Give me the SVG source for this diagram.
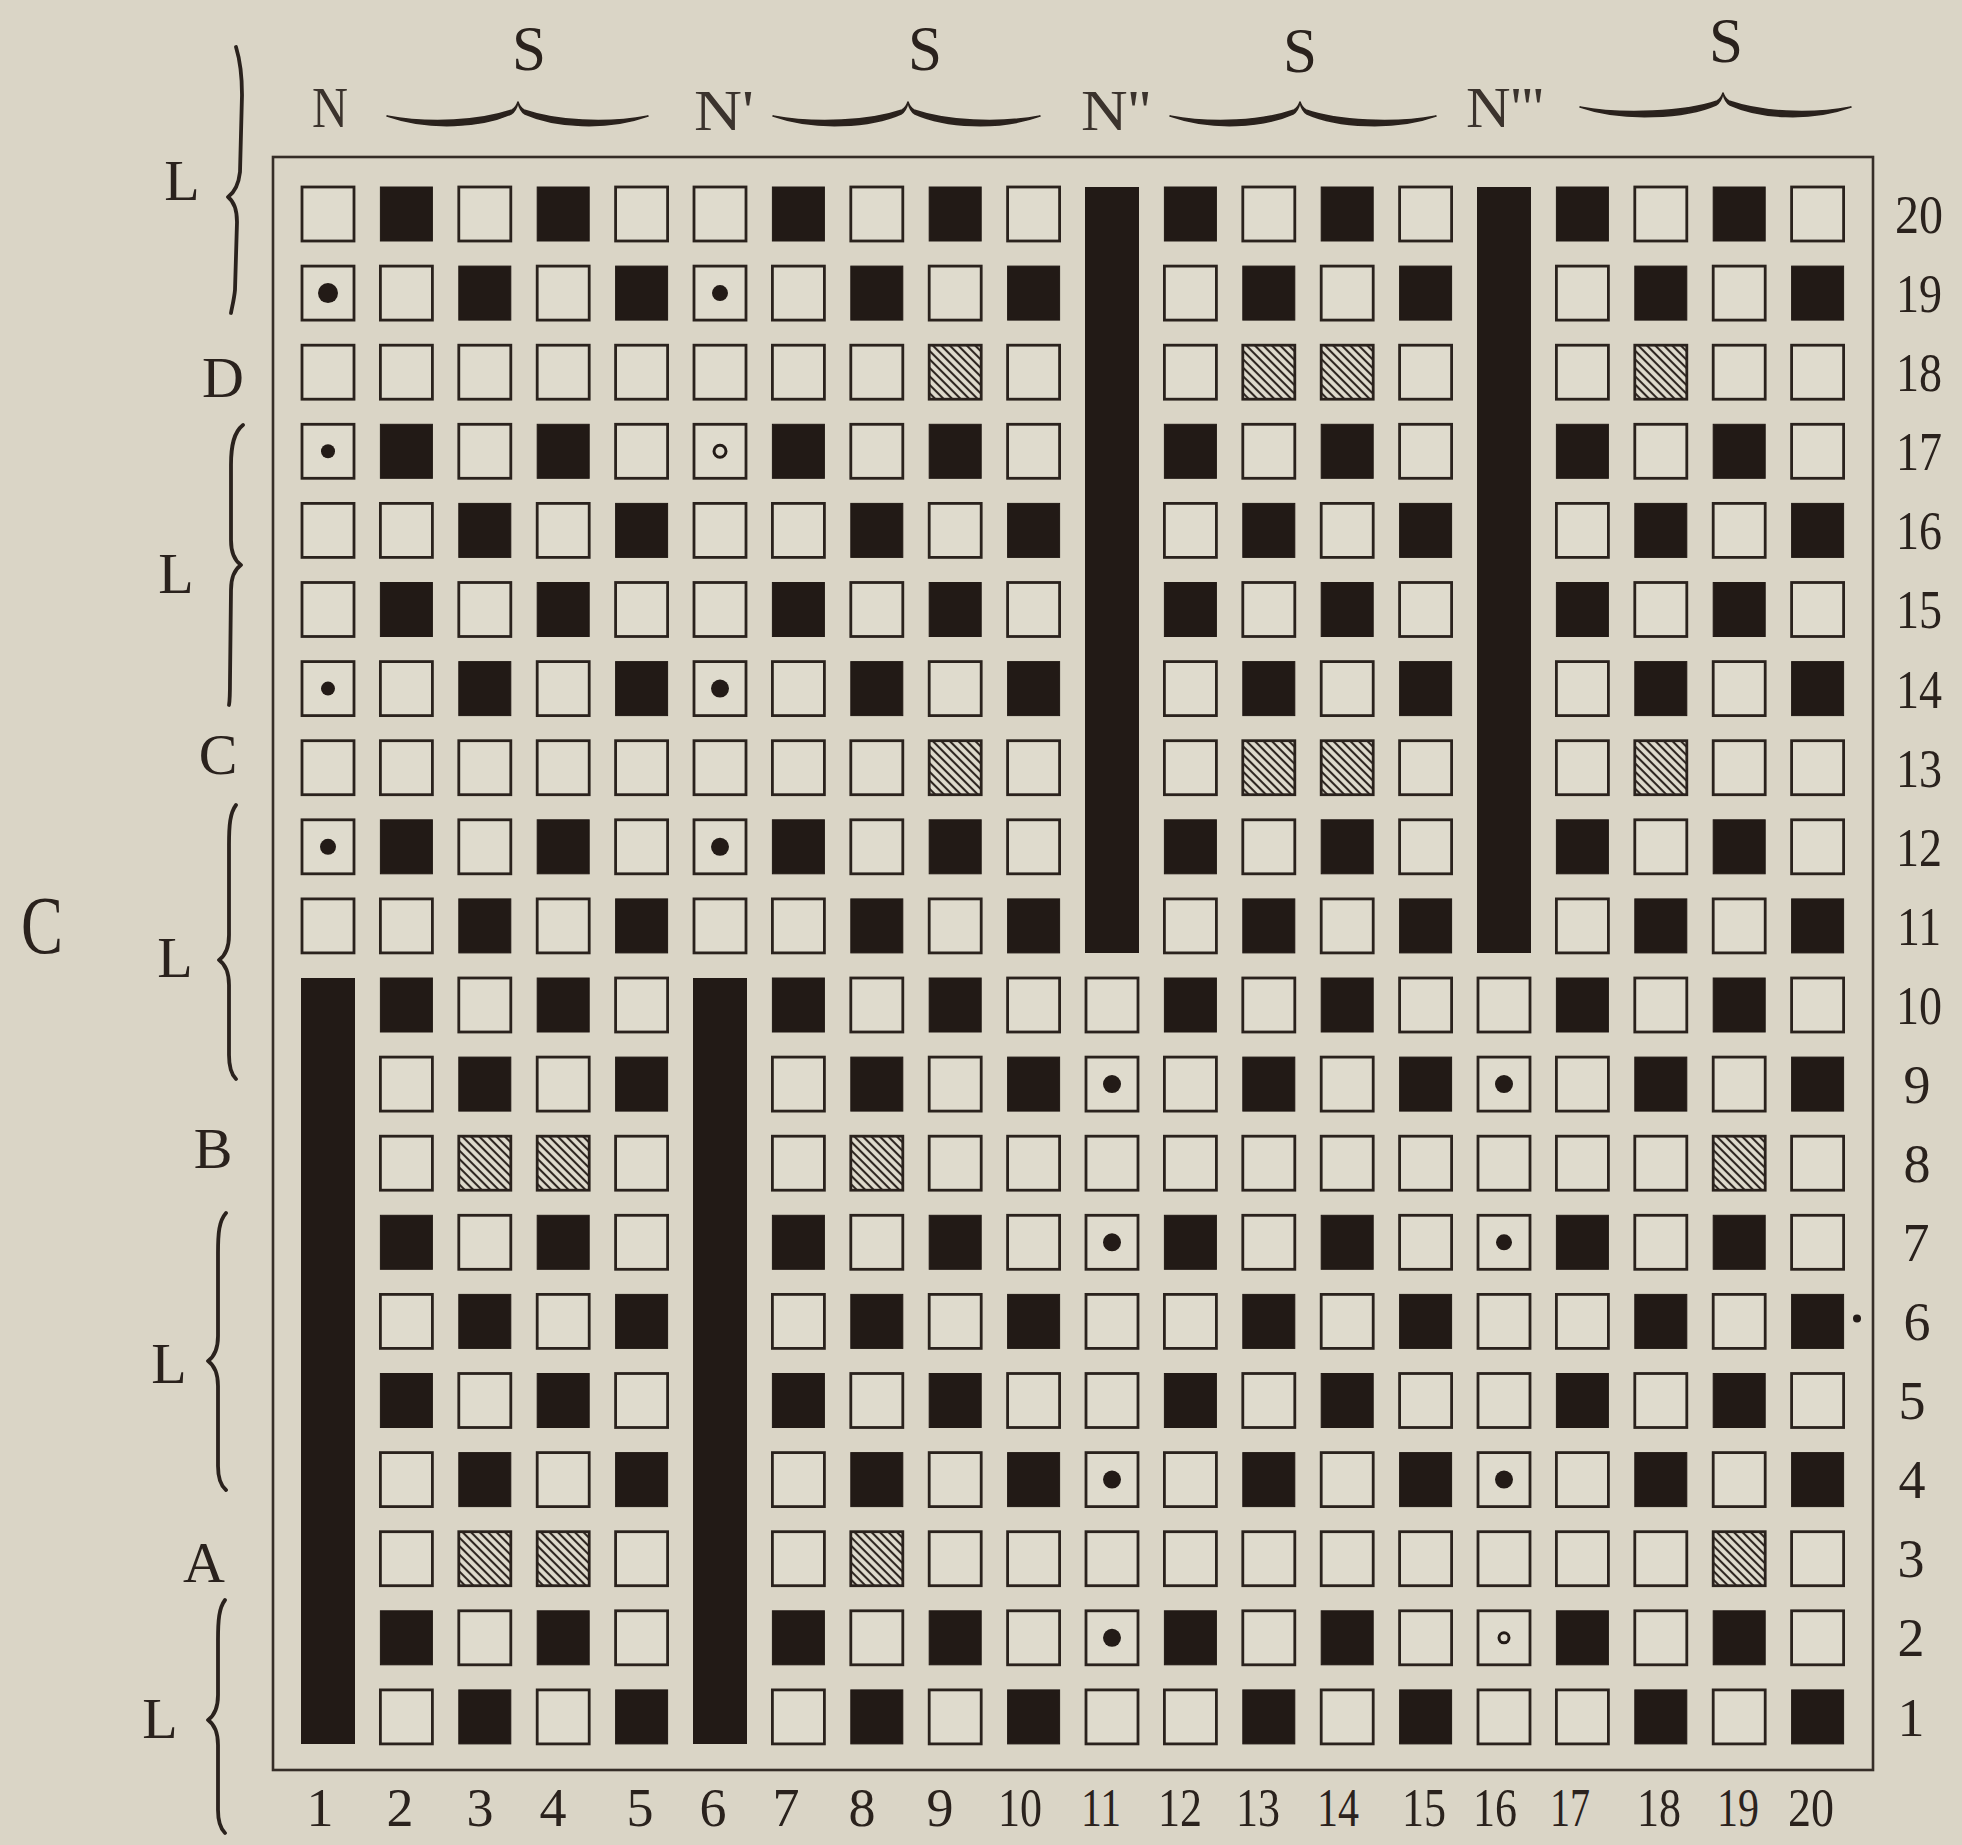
<svg xmlns="http://www.w3.org/2000/svg" xmlns:xlink="http://www.w3.org/1999/xlink" width="1962" height="1845" viewBox="0 0 1962 1845">
<style>
.t{font-family:"Liberation Serif","Times New Roman",serif;fill:#2a221d}
.lbl{font-size:58px;text-anchor:middle}
.num{font-size:54px;text-anchor:middle}
.top{font-size:56px;fill:#3b332d}
.s{font-size:64px;text-anchor:middle}
.br{fill:#2a221d;stroke:#2a221d;stroke-width:1.6;stroke-linejoin:round}
.vb{fill:none;stroke:#2a221d;stroke-width:3.8;stroke-linecap:round;stroke-linejoin:round}
.dot{fill:#231b17}
.ring{fill:none;stroke:#231b17;stroke-width:3}
.bar{fill:#221a16}
</style>
<defs>
<pattern id="hp" width="6" height="6" patternUnits="userSpaceOnUse" patternTransform="rotate(-45)">
<rect width="6" height="6" fill="#dfdbcd"/>
<line x1="3" y1="0" x2="3" y2="6" stroke="#2e2621" stroke-width="2.1"/>
</pattern>
<rect id="w" x="-26" y="-27" width="52" height="54" fill="#dfdbcd" stroke="#2a221d" stroke-width="2.8"/>
<rect id="k" x="-26" y="-27" width="52" height="54" fill="#221a16" stroke="#221a16" stroke-width="1"/>
<rect id="h" x="-26" y="-27" width="52" height="54" fill="url(#hp)" stroke="#2a221d" stroke-width="2.8"/>
</defs>
<rect x="0" y="0" width="1962" height="1845" fill="#dad5c6"/>

<g id="border">
<rect x="273" y="157" width="1600" height="1613" fill="none" stroke="#352d27" stroke-width="2.6"/>
</g>

<g id="bars">
<rect class="bar" x="301" y="978" width="54" height="766"/>
<rect class="bar" x="693" y="978" width="54" height="766"/>
<rect class="bar" x="1085" y="187" width="54" height="766"/>
<rect class="bar" x="1477" y="187" width="54" height="766"/>
</g>

<g id="row-20" transform="translate(0,214)">
<use href="#w" x="328"/><use href="#k" x="406.4"/><use href="#w" x="484.8"/><use href="#k" x="563.2"/><use href="#w" x="641.6"/><use href="#w" x="720"/><use href="#k" x="798.4"/><use href="#w" x="876.8"/><use href="#k" x="955.2"/><use href="#w" x="1033.6"/><use href="#k" x="1190.4"/><use href="#w" x="1268.8"/><use href="#k" x="1347.2"/><use href="#w" x="1425.6"/><use href="#k" x="1582.4"/><use href="#w" x="1660.8"/><use href="#k" x="1739.2"/><use href="#w" x="1817.6"/>
</g>
<g id="row-19" transform="translate(0,293.1)">
<use href="#w" x="328"/><use href="#w" x="406.4"/><use href="#k" x="484.8"/><use href="#w" x="563.2"/><use href="#k" x="641.6"/><use href="#w" x="720"/><use href="#w" x="798.4"/><use href="#k" x="876.8"/><use href="#w" x="955.2"/><use href="#k" x="1033.6"/><use href="#w" x="1190.4"/><use href="#k" x="1268.8"/><use href="#w" x="1347.2"/><use href="#k" x="1425.6"/><use href="#w" x="1582.4"/><use href="#k" x="1660.8"/><use href="#w" x="1739.2"/><use href="#k" x="1817.6"/>
<circle class="dot" cx="328" cy="0" r="10"/><circle class="dot" cx="720" cy="0" r="8"/>
</g>
<g id="row-18" transform="translate(0,372.2)">
<use href="#w" x="328"/><use href="#w" x="406.4"/><use href="#w" x="484.8"/><use href="#w" x="563.2"/><use href="#w" x="641.6"/><use href="#w" x="720"/><use href="#w" x="798.4"/><use href="#w" x="876.8"/><use href="#h" x="955.2"/><use href="#w" x="1033.6"/><use href="#w" x="1190.4"/><use href="#h" x="1268.8"/><use href="#h" x="1347.2"/><use href="#w" x="1425.6"/><use href="#w" x="1582.4"/><use href="#h" x="1660.8"/><use href="#w" x="1739.2"/><use href="#w" x="1817.6"/>
</g>
<g id="row-17" transform="translate(0,451.3)">
<use href="#w" x="328"/><use href="#k" x="406.4"/><use href="#w" x="484.8"/><use href="#k" x="563.2"/><use href="#w" x="641.6"/><use href="#w" x="720"/><use href="#k" x="798.4"/><use href="#w" x="876.8"/><use href="#k" x="955.2"/><use href="#w" x="1033.6"/><use href="#k" x="1190.4"/><use href="#w" x="1268.8"/><use href="#k" x="1347.2"/><use href="#w" x="1425.6"/><use href="#k" x="1582.4"/><use href="#w" x="1660.8"/><use href="#k" x="1739.2"/><use href="#w" x="1817.6"/>
<circle class="dot" cx="328" cy="0" r="7"/><circle class="ring" cx="720" cy="0" r="6"/>
</g>
<g id="row-16" transform="translate(0,530.4)">
<use href="#w" x="328"/><use href="#w" x="406.4"/><use href="#k" x="484.8"/><use href="#w" x="563.2"/><use href="#k" x="641.6"/><use href="#w" x="720"/><use href="#w" x="798.4"/><use href="#k" x="876.8"/><use href="#w" x="955.2"/><use href="#k" x="1033.6"/><use href="#w" x="1190.4"/><use href="#k" x="1268.8"/><use href="#w" x="1347.2"/><use href="#k" x="1425.6"/><use href="#w" x="1582.4"/><use href="#k" x="1660.8"/><use href="#w" x="1739.2"/><use href="#k" x="1817.6"/>
</g>
<g id="row-15" transform="translate(0,609.5)">
<use href="#w" x="328"/><use href="#k" x="406.4"/><use href="#w" x="484.8"/><use href="#k" x="563.2"/><use href="#w" x="641.6"/><use href="#w" x="720"/><use href="#k" x="798.4"/><use href="#w" x="876.8"/><use href="#k" x="955.2"/><use href="#w" x="1033.6"/><use href="#k" x="1190.4"/><use href="#w" x="1268.8"/><use href="#k" x="1347.2"/><use href="#w" x="1425.6"/><use href="#k" x="1582.4"/><use href="#w" x="1660.8"/><use href="#k" x="1739.2"/><use href="#w" x="1817.6"/>
</g>
<g id="row-14" transform="translate(0,688.6)">
<use href="#w" x="328"/><use href="#w" x="406.4"/><use href="#k" x="484.8"/><use href="#w" x="563.2"/><use href="#k" x="641.6"/><use href="#w" x="720"/><use href="#w" x="798.4"/><use href="#k" x="876.8"/><use href="#w" x="955.2"/><use href="#k" x="1033.6"/><use href="#w" x="1190.4"/><use href="#k" x="1268.8"/><use href="#w" x="1347.2"/><use href="#k" x="1425.6"/><use href="#w" x="1582.4"/><use href="#k" x="1660.8"/><use href="#w" x="1739.2"/><use href="#k" x="1817.6"/>
<circle class="dot" cx="328" cy="0" r="7"/><circle class="dot" cx="720" cy="0" r="9"/>
</g>
<g id="row-13" transform="translate(0,767.7)">
<use href="#w" x="328"/><use href="#w" x="406.4"/><use href="#w" x="484.8"/><use href="#w" x="563.2"/><use href="#w" x="641.6"/><use href="#w" x="720"/><use href="#w" x="798.4"/><use href="#w" x="876.8"/><use href="#h" x="955.2"/><use href="#w" x="1033.6"/><use href="#w" x="1190.4"/><use href="#h" x="1268.8"/><use href="#h" x="1347.2"/><use href="#w" x="1425.6"/><use href="#w" x="1582.4"/><use href="#h" x="1660.8"/><use href="#w" x="1739.2"/><use href="#w" x="1817.6"/>
</g>
<g id="row-12" transform="translate(0,846.8)">
<use href="#w" x="328"/><use href="#k" x="406.4"/><use href="#w" x="484.8"/><use href="#k" x="563.2"/><use href="#w" x="641.6"/><use href="#w" x="720"/><use href="#k" x="798.4"/><use href="#w" x="876.8"/><use href="#k" x="955.2"/><use href="#w" x="1033.6"/><use href="#k" x="1190.4"/><use href="#w" x="1268.8"/><use href="#k" x="1347.2"/><use href="#w" x="1425.6"/><use href="#k" x="1582.4"/><use href="#w" x="1660.8"/><use href="#k" x="1739.2"/><use href="#w" x="1817.6"/>
<circle class="dot" cx="328" cy="0" r="8"/><circle class="dot" cx="720" cy="0" r="9"/>
</g>
<g id="row-11" transform="translate(0,925.9)">
<use href="#w" x="328"/><use href="#w" x="406.4"/><use href="#k" x="484.8"/><use href="#w" x="563.2"/><use href="#k" x="641.6"/><use href="#w" x="720"/><use href="#w" x="798.4"/><use href="#k" x="876.8"/><use href="#w" x="955.2"/><use href="#k" x="1033.6"/><use href="#w" x="1190.4"/><use href="#k" x="1268.8"/><use href="#w" x="1347.2"/><use href="#k" x="1425.6"/><use href="#w" x="1582.4"/><use href="#k" x="1660.8"/><use href="#w" x="1739.2"/><use href="#k" x="1817.6"/>
</g>
<g id="row-10" transform="translate(0,1005)">
<use href="#k" x="406.4"/><use href="#w" x="484.8"/><use href="#k" x="563.2"/><use href="#w" x="641.6"/><use href="#k" x="798.4"/><use href="#w" x="876.8"/><use href="#k" x="955.2"/><use href="#w" x="1033.6"/><use href="#w" x="1112"/><use href="#k" x="1190.4"/><use href="#w" x="1268.8"/><use href="#k" x="1347.2"/><use href="#w" x="1425.6"/><use href="#w" x="1504"/><use href="#k" x="1582.4"/><use href="#w" x="1660.8"/><use href="#k" x="1739.2"/><use href="#w" x="1817.6"/>
</g>
<g id="row-9" transform="translate(0,1084.1)">
<use href="#w" x="406.4"/><use href="#k" x="484.8"/><use href="#w" x="563.2"/><use href="#k" x="641.6"/><use href="#w" x="798.4"/><use href="#k" x="876.8"/><use href="#w" x="955.2"/><use href="#k" x="1033.6"/><use href="#w" x="1112"/><use href="#w" x="1190.4"/><use href="#k" x="1268.8"/><use href="#w" x="1347.2"/><use href="#k" x="1425.6"/><use href="#w" x="1504"/><use href="#w" x="1582.4"/><use href="#k" x="1660.8"/><use href="#w" x="1739.2"/><use href="#k" x="1817.6"/>
<circle class="dot" cx="1112" cy="0" r="9"/><circle class="dot" cx="1504" cy="0" r="9"/>
</g>
<g id="row-8" transform="translate(0,1163.2)">
<use href="#w" x="406.4"/><use href="#h" x="484.8"/><use href="#h" x="563.2"/><use href="#w" x="641.6"/><use href="#w" x="798.4"/><use href="#h" x="876.8"/><use href="#w" x="955.2"/><use href="#w" x="1033.6"/><use href="#w" x="1112"/><use href="#w" x="1190.4"/><use href="#w" x="1268.8"/><use href="#w" x="1347.2"/><use href="#w" x="1425.6"/><use href="#w" x="1504"/><use href="#w" x="1582.4"/><use href="#w" x="1660.8"/><use href="#h" x="1739.2"/><use href="#w" x="1817.6"/>
</g>
<g id="row-7" transform="translate(0,1242.3)">
<use href="#k" x="406.4"/><use href="#w" x="484.8"/><use href="#k" x="563.2"/><use href="#w" x="641.6"/><use href="#k" x="798.4"/><use href="#w" x="876.8"/><use href="#k" x="955.2"/><use href="#w" x="1033.6"/><use href="#w" x="1112"/><use href="#k" x="1190.4"/><use href="#w" x="1268.8"/><use href="#k" x="1347.2"/><use href="#w" x="1425.6"/><use href="#w" x="1504"/><use href="#k" x="1582.4"/><use href="#w" x="1660.8"/><use href="#k" x="1739.2"/><use href="#w" x="1817.6"/>
<circle class="dot" cx="1112" cy="0" r="9"/><circle class="dot" cx="1504" cy="0" r="8"/>
</g>
<g id="row-6" transform="translate(0,1321.4)">
<use href="#w" x="406.4"/><use href="#k" x="484.8"/><use href="#w" x="563.2"/><use href="#k" x="641.6"/><use href="#w" x="798.4"/><use href="#k" x="876.8"/><use href="#w" x="955.2"/><use href="#k" x="1033.6"/><use href="#w" x="1112"/><use href="#w" x="1190.4"/><use href="#k" x="1268.8"/><use href="#w" x="1347.2"/><use href="#k" x="1425.6"/><use href="#w" x="1504"/><use href="#w" x="1582.4"/><use href="#k" x="1660.8"/><use href="#w" x="1739.2"/><use href="#k" x="1817.6"/>
<circle class="dot" cx="1857" cy="-3" r="4"/>
</g>
<g id="row-5" transform="translate(0,1400.5)">
<use href="#k" x="406.4"/><use href="#w" x="484.8"/><use href="#k" x="563.2"/><use href="#w" x="641.6"/><use href="#k" x="798.4"/><use href="#w" x="876.8"/><use href="#k" x="955.2"/><use href="#w" x="1033.6"/><use href="#w" x="1112"/><use href="#k" x="1190.4"/><use href="#w" x="1268.8"/><use href="#k" x="1347.2"/><use href="#w" x="1425.6"/><use href="#w" x="1504"/><use href="#k" x="1582.4"/><use href="#w" x="1660.8"/><use href="#k" x="1739.2"/><use href="#w" x="1817.6"/>
</g>
<g id="row-4" transform="translate(0,1479.6)">
<use href="#w" x="406.4"/><use href="#k" x="484.8"/><use href="#w" x="563.2"/><use href="#k" x="641.6"/><use href="#w" x="798.4"/><use href="#k" x="876.8"/><use href="#w" x="955.2"/><use href="#k" x="1033.6"/><use href="#w" x="1112"/><use href="#w" x="1190.4"/><use href="#k" x="1268.8"/><use href="#w" x="1347.2"/><use href="#k" x="1425.6"/><use href="#w" x="1504"/><use href="#w" x="1582.4"/><use href="#k" x="1660.8"/><use href="#w" x="1739.2"/><use href="#k" x="1817.6"/>
<circle class="dot" cx="1112" cy="0" r="9"/><circle class="dot" cx="1504" cy="0" r="9"/>
</g>
<g id="row-3" transform="translate(0,1558.7)">
<use href="#w" x="406.4"/><use href="#h" x="484.8"/><use href="#h" x="563.2"/><use href="#w" x="641.6"/><use href="#w" x="798.4"/><use href="#h" x="876.8"/><use href="#w" x="955.2"/><use href="#w" x="1033.6"/><use href="#w" x="1112"/><use href="#w" x="1190.4"/><use href="#w" x="1268.8"/><use href="#w" x="1347.2"/><use href="#w" x="1425.6"/><use href="#w" x="1504"/><use href="#w" x="1582.4"/><use href="#w" x="1660.8"/><use href="#h" x="1739.2"/><use href="#w" x="1817.6"/>
</g>
<g id="row-2" transform="translate(0,1637.8)">
<use href="#k" x="406.4"/><use href="#w" x="484.8"/><use href="#k" x="563.2"/><use href="#w" x="641.6"/><use href="#k" x="798.4"/><use href="#w" x="876.8"/><use href="#k" x="955.2"/><use href="#w" x="1033.6"/><use href="#w" x="1112"/><use href="#k" x="1190.4"/><use href="#w" x="1268.8"/><use href="#k" x="1347.2"/><use href="#w" x="1425.6"/><use href="#w" x="1504"/><use href="#k" x="1582.4"/><use href="#w" x="1660.8"/><use href="#k" x="1739.2"/><use href="#w" x="1817.6"/>
<circle class="dot" cx="1112" cy="0" r="9"/><circle class="ring" cx="1504" cy="0" r="5"/>
</g>
<g id="row-1" transform="translate(0,1716.9)">
<use href="#w" x="406.4"/><use href="#k" x="484.8"/><use href="#w" x="563.2"/><use href="#k" x="641.6"/><use href="#w" x="798.4"/><use href="#k" x="876.8"/><use href="#w" x="955.2"/><use href="#k" x="1033.6"/><use href="#w" x="1112"/><use href="#w" x="1190.4"/><use href="#k" x="1268.8"/><use href="#w" x="1347.2"/><use href="#k" x="1425.6"/><use href="#w" x="1504"/><use href="#w" x="1582.4"/><use href="#k" x="1660.8"/><use href="#w" x="1739.2"/><use href="#k" x="1817.6"/>
</g>

<g id="braces">
<path class="br" d="M387,116 C430,131 482,127 511,114 Q516,111 518,102 Q520,111 525,114 C554,127 606,131 648,116 C606,124 556,121 524,110 Q520,108 518,102 Q516,108 512,110 C480,121 430,124 387,116 Z"/>
<path class="br" d="M773,116 C816,131 872,127 901,114 Q906,111 908,102 Q910,111 915,114 C944,127 998,131 1040,116 C998,124 946,121 914,110 Q910,108 908,102 Q906,108 902,110 C870,121 816,124 773,116 Z"/>
<path class="br" d="M1170,116 C1213,131 1264,127 1293,114 Q1298,111 1300,102 Q1302,111 1307,114 C1336,127 1394,131 1436,116 C1394,124 1338,121 1306,110 Q1302,108 1300,102 Q1298,108 1294,110 C1262,121 1213,124 1170,116 Z"/>
<path class="br" d="M1580,107 C1623,122 1687,118 1716,105 Q1721,102 1723,93 Q1725,102 1730,105 C1759,118 1809,122 1851,107 C1809,115 1761,112 1729,101 Q1725,99 1723,93 Q1721,99 1717,101 C1685,112 1623,115 1580,107 Z"/>
<path class="vb" d="M236,47 C240,60 242,75 242,95 L240,172 Q238,190 228,197 Q237,204 237,222 L235,290 C234,300 232,307 231,313"/>
<path class="vb" d="M243,425 C234,432 231,445 231,465 L231,540 Q231,558 241,565 Q231,572 231,590 L230,680 C230,692 230,700 229,705"/>
<path class="vb" d="M236,805 C230,813 229,825 229,845 L229,935 Q229,953 219,960 Q229,967 229,985 L229,1055 C229,1067 231,1074 236,1079"/>
<path class="vb" d="M226,1213 C219,1221 218,1233 218,1253 L218,1336 Q218,1354 208,1361 Q218,1368 218,1386 L218,1466 C218,1478 220,1485 226,1490"/>
<path class="vb" d="M225,1600 C219,1608 218,1620 218,1640 L218,1695 Q218,1713 208,1720 Q218,1727 218,1745 L218,1810 C218,1822 220,1828 225,1833"/>
</g>

<g id="top-labels">
<text class="t top" x="330" y="127" text-anchor="middle" textLength="36" lengthAdjust="spacingAndGlyphs">N</text>
<text class="t top" x="694" y="130" textLength="60" lengthAdjust="spacingAndGlyphs">N'</text>
<text class="t top" x="1081" y="130" textLength="70" lengthAdjust="spacingAndGlyphs">N''</text>
<text class="t top" x="1466" y="127" textLength="78" lengthAdjust="spacingAndGlyphs">N'''</text>
<text class="t s" x="529" y="70" textLength="34" lengthAdjust="spacingAndGlyphs">S</text>
<text class="t s" x="925" y="70" textLength="34" lengthAdjust="spacingAndGlyphs">S</text>
<text class="t s" x="1300" y="72" textLength="34" lengthAdjust="spacingAndGlyphs">S</text>
<text class="t s" x="1726" y="62" textLength="34" lengthAdjust="spacingAndGlyphs">S</text>
</g>

<g id="left-labels">
<text class="t lbl" x="182" y="200">L</text>
<text class="t lbl" x="223" y="397">D</text>
<text class="t lbl" x="176" y="593">L</text>
<text class="t lbl" x="218" y="774">C</text>
<text class="t lbl" x="175" y="977">L</text>
<text class="t lbl" x="213" y="1168">B</text>
<text class="t lbl" x="169" y="1383">L</text>
<text class="t lbl" x="204" y="1582">A</text>
<text class="t lbl" x="160" y="1738">L</text>
<text class="t" x="42" y="953" font-size="82" text-anchor="middle" textLength="42" lengthAdjust="spacingAndGlyphs">C</text>
</g>

<g id="row-numbers">
<text class="t num" x="1919" y="233" textLength="48" lengthAdjust="spacingAndGlyphs">20</text>
<text class="t num" x="1919" y="312" textLength="46" lengthAdjust="spacingAndGlyphs">19</text>
<text class="t num" x="1919" y="391" textLength="46" lengthAdjust="spacingAndGlyphs">18</text>
<text class="t num" x="1919" y="470" textLength="46" lengthAdjust="spacingAndGlyphs">17</text>
<text class="t num" x="1919" y="549" textLength="46" lengthAdjust="spacingAndGlyphs">16</text>
<text class="t num" x="1919" y="628" textLength="46" lengthAdjust="spacingAndGlyphs">15</text>
<text class="t num" x="1919" y="708" textLength="46" lengthAdjust="spacingAndGlyphs">14</text>
<text class="t num" x="1919" y="787" textLength="46" lengthAdjust="spacingAndGlyphs">13</text>
<text class="t num" x="1919" y="866" textLength="46" lengthAdjust="spacingAndGlyphs">12</text>
<text class="t num" x="1919" y="945" textLength="44" lengthAdjust="spacingAndGlyphs">11</text>
<text class="t num" x="1919" y="1024" textLength="46" lengthAdjust="spacingAndGlyphs">10</text>
<text class="t num" x="1917" y="1103">9</text>
<text class="t num" x="1917" y="1182">8</text>
<text class="t num" x="1916" y="1261">7</text>
<text class="t num" x="1917" y="1340">6</text>
<text class="t num" x="1912" y="1419">5</text>
<text class="t num" x="1912" y="1498">4</text>
<text class="t num" x="1911" y="1577">3</text>
<text class="t num" x="1911" y="1656">2</text>
<text class="t num" x="1911" y="1736">1</text>
</g>

<g id="col-numbers">
<text class="t num" x="320" y="1826">1</text>
<text class="t num" x="400" y="1826">2</text>
<text class="t num" x="480" y="1826">3</text>
<text class="t num" x="553" y="1826">4</text>
<text class="t num" x="640" y="1826">5</text>
<text class="t num" x="713" y="1826">6</text>
<text class="t num" x="786" y="1826">7</text>
<text class="t num" x="862" y="1826">8</text>
<text class="t num" x="940" y="1826">9</text>
<text class="t num" x="1020" y="1826" textLength="44" lengthAdjust="spacingAndGlyphs">10</text>
<text class="t num" x="1101" y="1826" textLength="40" lengthAdjust="spacingAndGlyphs">11</text>
<text class="t num" x="1180" y="1826" textLength="44" lengthAdjust="spacingAndGlyphs">12</text>
<text class="t num" x="1258" y="1826" textLength="44" lengthAdjust="spacingAndGlyphs">13</text>
<text class="t num" x="1338" y="1826" textLength="42" lengthAdjust="spacingAndGlyphs">14</text>
<text class="t num" x="1424" y="1826" textLength="44" lengthAdjust="spacingAndGlyphs">15</text>
<text class="t num" x="1495" y="1826" textLength="44" lengthAdjust="spacingAndGlyphs">16</text>
<text class="t num" x="1570" y="1826" textLength="40" lengthAdjust="spacingAndGlyphs">17</text>
<text class="t num" x="1659" y="1826" textLength="44" lengthAdjust="spacingAndGlyphs">18</text>
<text class="t num" x="1738" y="1826" textLength="42" lengthAdjust="spacingAndGlyphs">19</text>
<text class="t num" x="1811" y="1826" textLength="46" lengthAdjust="spacingAndGlyphs">20</text>
</g>
</svg>
